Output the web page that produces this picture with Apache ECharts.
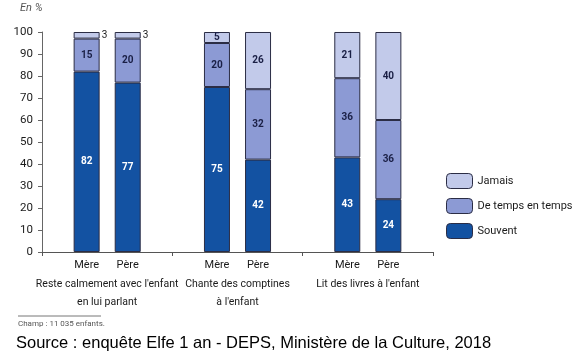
<!DOCTYPE html>
<html><head><meta charset="utf-8">
<script src="https://cdn.jsdelivr.net/npm/echarts@6/dist/echarts.min.js"></script>
<style>html,body{margin:0;padding:0;background:#fff}#c{width:572px;height:358px}</style>
</head><body><div id="c"></div>
<script>
var groups = ["Reste calmement avec l'enfant\nen lui parlant", "Chante des comptines\nà l'enfant", "Lit des livres à l'enfant"];
var parents = ["Mère", "Père"];
var souventMere = [82, 75, 43];
var souventPere = [77, 42, 24];
var tempsMere = [15, 20, 36];
var tempsPere = [20, 32, 36];
var jamaisMere = [3, 5, 21];
var jamaisPere = [3, 26, 40];
var yTicks = [0, 10, 20, 30, 40, 50, 60, 70, 80, 90, 100];

var FONT = "Roboto, 'Liberation Sans', sans-serif";
var cSouvent = '#1352a2', cTemps = '#8c9ad4', cJamais = '#c2caea';
var border = '#2b2d45';

function bar(name, stack, data, color, labelColor, smallOutside) {
  return {
    type: 'bar', name: name, stack: stack, barWidth: 26, barGap: '58%',
    itemStyle: { color: color, borderColor: border, borderWidth: 1 },
    label: {
      show: true, position: 'inside', color: labelColor, fontFamily: FONT,
      fontSize: 10, fontWeight: 'bold',
      formatter: function (p) { return p.value; }
    },
    data: data.map(function (v) {
      if (smallOutside && v < 4) {
        return { value: v, label: { position: 'right', distance: 2, color: '#1a1a1a', fontWeight: 'normal' } };
      }
      return v;
    })
  };
}

var chart = echarts.init(document.getElementById('c'));
chart.setOption({
  animation: false,
  grid: { left: 42, right: 139, top: 32, bottom: 106 },
  legend: {
    orient: 'vertical', left: 441, top: 168, itemWidth: 26, itemHeight: 15, itemGap: 9,
    data: ['Jamais', 'De temps en temps', 'Souvent'],
    textStyle: { fontFamily: FONT, fontSize: 11, color: '#1a1a1a' },
    itemStyle: { borderColor: border, borderWidth: 1 }
  },
  xAxis: {
    type: 'category', data: groups,
    axisLine: { lineStyle: { color: '#555', width: 1 } },
    axisTick: { show: true, length: 4, lineStyle: { color: '#555' } },
    axisLabel: {
      interval: 0, margin: 4, fontFamily: FONT, color: '#1a1a1a',
      formatter: function (v) {
        var lines = v.split('\n').map(function (l) { return '{g|' + l + '}'; });
        return '{m|' + parents[0] + '}{m|' + parents[1] + '}\n' + lines.join('\n');
      },
      rich: {
        m: { width: 41, align: 'center', fontFamily: FONT, fontSize: 11, color: '#1a1a1a', lineHeight: 19 },
        g: { fontFamily: FONT, fontSize: 10.5, color: '#1a1a1a', lineHeight: 18 }
      }
    }
  },
  yAxis: {
    type: 'value', min: 0, max: 100, interval: 10,
    axisLine: { show: true, lineStyle: { color: '#666', width: 1 } },
    axisTick: { show: true, length: 4, inside: false, lineStyle: { color: '#666' } },
    splitLine: { show: false },
    axisLabel: {
      margin: 9, fontFamily: FONT, fontSize: 11.5, color: '#1a1a1a',
      formatter: function (v) { return yTicks.indexOf(v) >= 0 ? String(v) : ''; }
    }
  },
  series: [
    bar('Souvent', 'Mère', souventMere, cSouvent, '#ffffff'),
    bar('De temps en temps', 'Mère', tempsMere, cTemps, '#1a1f45'),
    bar('Jamais', 'Mère', jamaisMere, cJamais, '#1a1f45', true),
    bar('Souvent', 'Père', souventPere, cSouvent, '#ffffff'),
    bar('De temps en temps', 'Père', tempsPere, cTemps, '#1a1f45'),
    bar('Jamais', 'Père', jamaisPere, cJamais, '#1a1f45', true)
  ],
  graphic: [
    { type: 'text', left: 20, top: 3, style: { text: 'En %', font: 'italic 11px ' + FONT, fill: '#555' } },
    { type: 'line', shape: { x1: 18, y1: 316, x2: 101, y2: 316 }, style: { stroke: '#777', lineWidth: 1 } },
    { type: 'text', left: 18, top: 320, style: { text: 'Champ : 11 035 enfants.', font: '8px ' + FONT, fill: '#555' } },
    { type: 'text', left: 16, top: 335, style: { text: 'Source : enquête Elfe 1 an - DEPS, Ministère de la Culture, 2018', font: '16.5px "Liberation Sans", Arial, sans-serif', fill: '#000' } }
  ]
});
</script></body></html>
